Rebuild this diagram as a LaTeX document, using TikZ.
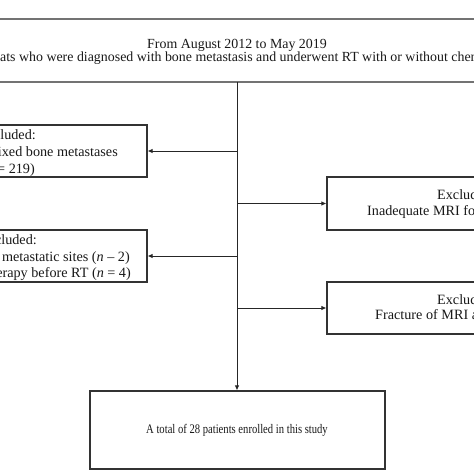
\documentclass[tikz,border=0pt]{standalone}
\usepackage{fontspec}
\setmainfont{Liberation Serif}
\usetikzlibrary{arrows.meta}
\begin{document}
\begin{tikzpicture}[x=1pt,y=-1pt,
  box/.style={draw=black!80, line width=1.2pt, inner sep=0pt},
  txt/.style={inner sep=0pt, text=black!90, font=\fontsize{14.2}{16}\selectfont},
  toptxt/.style={inner sep=0pt, text=black!90, font=\fontsize{13.9}{16}\selectfont},
  small/.style={inner sep=0pt, text=black!90, xscale=0.81, font=\fontsize{13.1}{15}\selectfont},
  arr/.style={draw=black!85, line width=0.9pt, -{Latex[length=5pt,width=4.5pt]}}]
\useasboundingbox (0,0) rectangle (474,474);
\clip (0,0) rectangle (474,474);
\fill[white] (0,0) rectangle (474,474);
% top box
\node[box, draw=black!55, minimum width=490pt, minimum height=63pt] (topbox) at (237,50.5) {};
\node[toptxt, anchor=base] (t1) at (237,48) {From August 2012 to May 2019};
\node[toptxt, anchor=base west] (t2) at (0,61) {ats who were diagnosed with bone metastasis and underwent RT with or without chem};
% left boxes
\node[box, minimum width=160pt, minimum height=52pt] (lb1) at (67,151) {};
\node[txt, anchor=base east] (l1a) at (36,139) {cluded:};
\node[txt, anchor=base east] (l1b) at (118,156) {ixed bone metastases};
\node[txt, anchor=base east] (l1c) at (35,173) {= 219)};
\node[box, minimum width=160pt, minimum height=52pt] (lb2) at (67,256) {};
\node[txt, anchor=base east] (l2a) at (37,244) {cluded:};
\node[txt, anchor=base east] (l2b) at (130,261) {metastatic sites (\textit{n} – 2)};
\node[txt, anchor=base east] (l2c) at (131,277) {erapy before RT (\textit{n} = 4)};
% right boxes
\node[box, minimum width=160pt, minimum height=53pt] (rb1) at (407,203.5) {};
\node[txt, anchor=base west] (r1a) at (437,199.5) {Exclud};
\node[txt, anchor=base west] (r1b) at (367,215.5) {Inadequate MRI fo};
\node[box, minimum width=160pt, minimum height=52pt] (rb2) at (407,308) {};
\node[txt, anchor=base west] (r2a) at (437,304.5) {Exclud};
\node[txt, anchor=base west] (r2b) at (375,319) {Fracture of MRI a};
% bottom box
\node[box, minimum width=295pt, minimum height=78pt] (bb) at (237.5,430) {};
\node[small] (bt) at (237,430) {A total of 28 patients enrolled in this study};
% connectors
\coordinate (trunk) at (237,82);
\draw[arr] (trunk) -- (trunk |- bb.north);
\draw[arr] (trunk |- lb1.east) -- (lb1.east);
\draw[arr] (trunk |- lb2.east) -- (lb2.east);
\draw[arr] (trunk |- rb1.west) -- (rb1.west);
\draw[arr] (trunk |- rb2.west) -- (rb2.west);
\end{tikzpicture}
\end{document}
